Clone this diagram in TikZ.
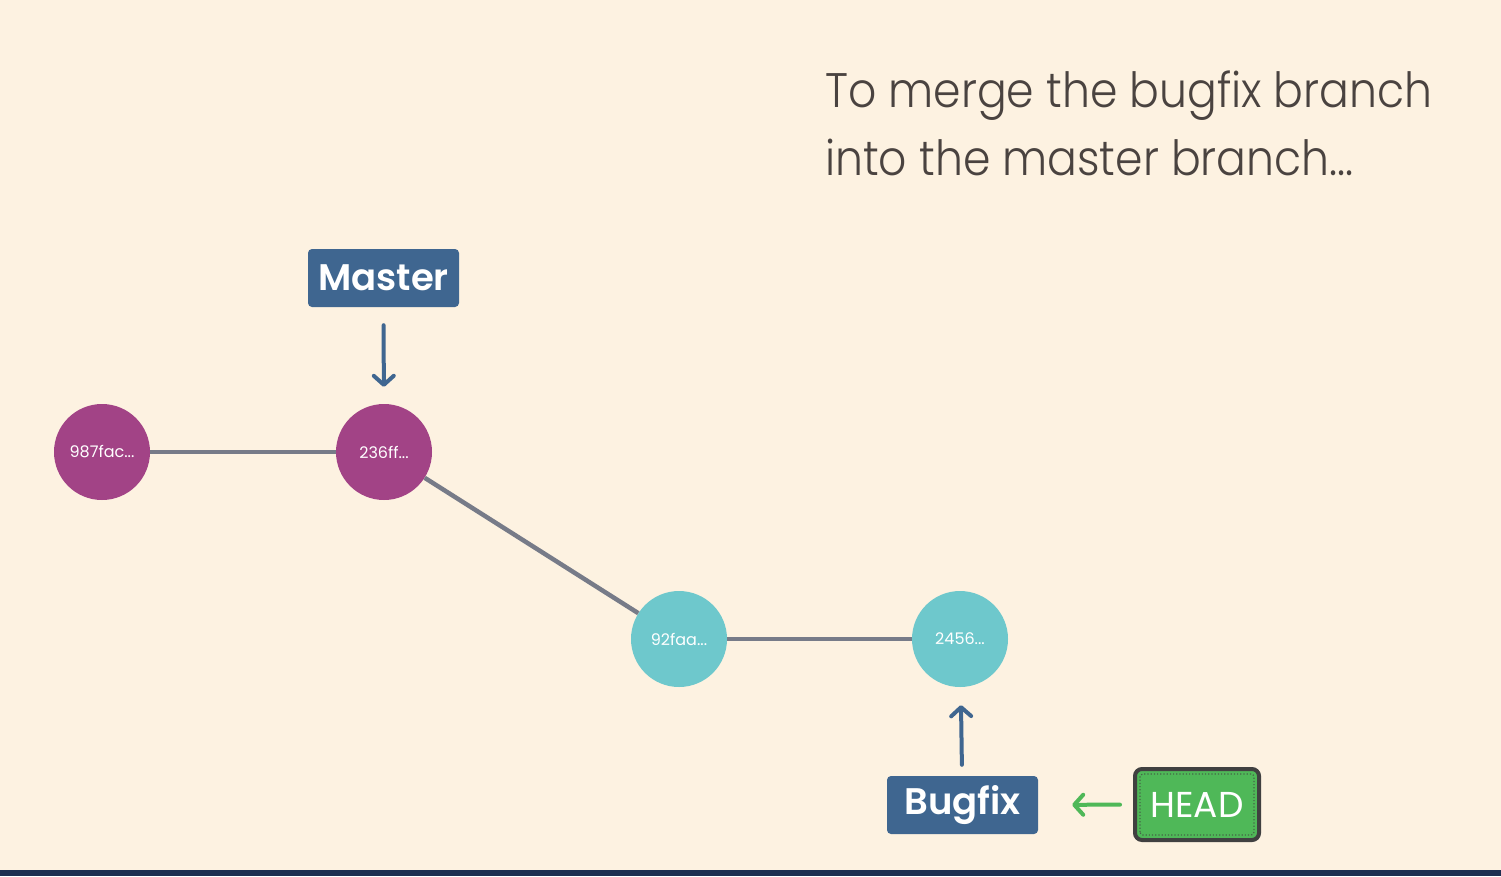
\documentclass[tikz,border=0pt]{standalone}
\usepackage{fontspec}
\setmainfont{Poppins}
\newfontfamily\titlefont{Poppins Light}[FakeStretch=0.91]
\newfontfamily\boxfont{Poppins SemiBold}
\usetikzlibrary{arrows.meta}
\definecolor{bg}{HTML}{FDF2E1}
\definecolor{navy}{HTML}{1D2E50}
\definecolor{purp}{HTML}{A24386}
\definecolor{teal}{HTML}{6EC8CC}
\definecolor{edgegray}{HTML}{777B88}
\definecolor{boxblue}{HTML}{3F6690}
\definecolor{headgreen}{HTML}{4FB858}
\definecolor{headborder}{HTML}{404040}
\definecolor{txt}{HTML}{4A4340}
\tikzset{
  commit/.style={circle, minimum size=96pt, inner sep=0pt, text=white, font=\fontsize{16}{18}\selectfont},
  master/.style={commit, fill=purp},
  bugc/.style={commit, fill=teal},
  edge/.style={draw=edgegray, line width=4.5pt},
  branchbox/.style={fill=boxblue, rounded corners=4pt, minimum width=151pt, minimum height=58pt, inner sep=0pt, text=white, font=\boxfont\fontsize{37}{40}\selectfont},
  ptr/.style={draw=boxblue, line width=4pt, line cap=round, -{Straight Barb[length=9pt, width=20pt, line cap=round, line join=round]}},
  hptr/.style={draw=headgreen, line width=4pt, line cap=round, -{Straight Barb[length=9pt, width=20pt, line cap=round, line join=round]}},
  headbox/.style={fill=headgreen, draw=headborder, line width=4pt, rounded corners=7pt, minimum width=124pt, minimum height=71pt, inner sep=0pt, text=white, font=\fontsize{36}{40}\selectfont},
}
\begin{document}
\begin{tikzpicture}[x=1pt,y=-1pt]
\fill[bg] (0,0) rectangle (1501,876);
\useasboundingbox (0,0) rectangle (1501,876);
\fill[navy] (0,870) rectangle (1501,876);

\node[anchor=base west, text=txt, font=\titlefont\fontsize{48.5}{68}\selectfont, align=left, inner sep=0pt] (title) at (825,175) {To merge the bugfix branch\\into the master branch...};

\node[master] (c987) at (102,452) {987fac...};
\node[master] (c236) at (384,452) {236ff...};
\node[bugc] (c92) at (679,639) {92faa...};
\node[bugc] (c2456) at (960,639) {2456...};

\draw[edge] (c987) -- (c236);
\draw[edge] (c236) -- (c92);
\draw[edge] (c92) -- (c2456);

\node[branchbox] (mbox) at (383.5,278) {Master};
\node[branchbox] (bbox) at (962.5,805) {Bugfix};
\node[headbox] (head) at (1197,804.5) {HEAD};
\draw[headborder!70!headgreen, line width=1.2pt, dotted, rounded corners=3pt] ([shift={(7pt,7pt)}]head.south west) rectangle ([shift={(-7pt,-7pt)}]head.north east);

\draw[ptr, shorten <=18pt, shorten >=17pt] (mbox) -- (c236);
\draw[ptr, shorten <=11pt, shorten >=18pt] (bbox) -- (c2456);
\draw[hptr, shorten <=13pt, shorten >=34pt] (head) -- (bbox);
\end{tikzpicture}
\end{document}
